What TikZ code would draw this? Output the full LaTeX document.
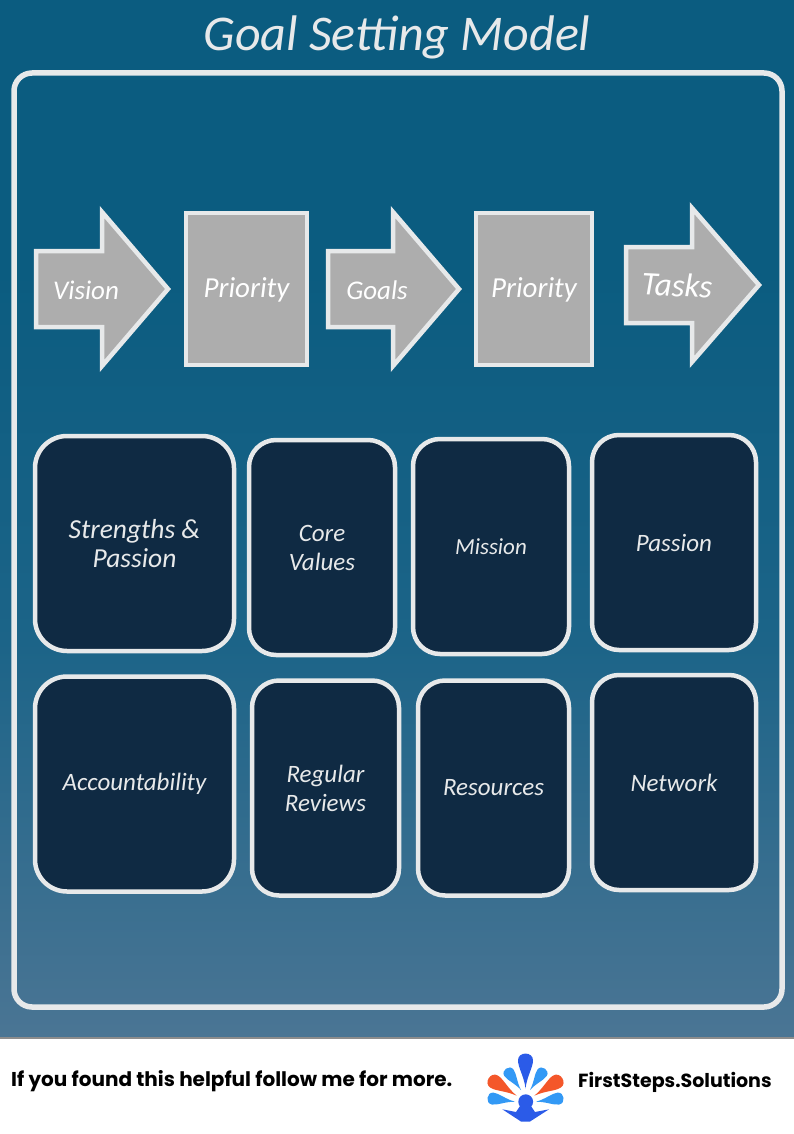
\documentclass[tikz,border=0pt]{standalone}
\usepackage{fontspec}
\usepackage{xcolor}
\usetikzlibrary{positioning,calc,shadows}
\setmainfont{Carlito}
\newfontfamily\footfont{Poppins}[BoldFont={Poppins Bold}]

\definecolor{bgtop}{HTML}{0B5C80}
\definecolor{bgmid}{HTML}{1C6488}
\definecolor{bgbot}{HTML}{4A7594}
\definecolor{framecol}{HTML}{E7E9EA}
\definecolor{flowgray}{HTML}{ADADAD}
\definecolor{cardnavy}{HTML}{0F2A43}
\definecolor{logoblue}{HTML}{2B5BE8}
\definecolor{logosky}{HTML}{3399F5}
\definecolor{logored}{HTML}{F4572A}

\pgfdeclareverticalshading{bgfade}{100bp}{color(0bp)=(bgbot); color(25bp)=(bgbot); color(44bp)=(bgmid); color(62bp)=(bgtop); color(100bp)=(bgtop)}

\tikzset{
    flowbox/.style={draw=framecol, fill=flowgray, line width=4.5pt, miter limit=10},
    flowtext/.style={text=white, font=\itshape\fontsize{27}{27}\selectfont, inner sep=0pt},
    priobox/.style={flowbox, minimum height=152pt, inner sep=0pt, text=white, text height=20pt, text depth=3pt, font=\itshape\fontsize{29}{29}\selectfont},
    cardbox/.style={draw=framecol, fill=cardnavy, line width=4.5pt, rounded corners=27pt, minimum height=215pt,
        inner sep=0pt, align=center, text=framecol, font=\itshape\fontsize{25}{29}\selectfont},
    footlabel/.style={anchor=west, inner sep=0pt, font=\footfont\bfseries\fontsize{20}{20}\selectfont},
    petal/.pic={\fill (0,0) .. controls (-1.5,-12) and (-7.5,-21) .. (-7.5,-28)
        .. controls (-7.5,-37) and (7.5,-37) .. (7.5,-28)
        .. controls (7.5,-21) and (1.5,-12) .. (0,0) -- cycle;}
}

\begin{document}
\begin{tikzpicture}[x=1pt,y=-1pt]
    \useasboundingbox (0,0) rectangle (794,1134);
    % background
    \fill[white] (0,0) rectangle (794,1134);
    \fill[black!45] (0,1035) rectangle (794,1039);
    \shade[shading=bgfade] (0,0) rectangle (794,1036);
    \node[text=framecol, font=\itshape\fontsize{50}{50}\selectfont, inner sep=0pt] (title) at (397,37) {Goal Setting Model};
    \draw[framecol, line width=5.5pt, rounded corners=18pt] (14,73) rectangle (782,1007);

    % top row
    \draw[flowbox] (36,251) -- (102,251) -- (102,212) -- (168,289) -- (102,366) -- (102,327) -- (36,327) -- cycle;
    \node[flowtext] (vision) at (86,290) {Vision};
    \node[priobox, minimum width=121pt] (prioa) at (246.5,289) {Priority};
    \draw[flowbox] (328,251) -- (393,251) -- (393,212) -- (459,289) -- (393,366) -- (393,327) -- (328,327) -- cycle;
    \node[flowtext] (goals) at (377,290) {Goals};
    \node[priobox, minimum width=116pt] (priob) at (534,289) {Priority};
    \draw[flowbox] (626,247) -- (692,247) -- (692,208) -- (759,285) -- (692,362) -- (692,323) -- (626,323) -- cycle;
    \node[flowtext, rotate=-3, font=\itshape\fontsize{33}{33}\selectfont] (tasks) at (677,285) {Tasks};

    % cards
    \node[cardbox, minimum width=199pt, rounded corners=32pt, font=\itshape\fontsize{27.5}{29}\selectfont] (strengths) at (134.5,543.5) {Strengths \&\\Passion};
    \node[cardbox, minimum width=146pt] (core) at (322,547.5) {Core\\Values};
    \node[cardbox, minimum width=156pt, font=\itshape\fontsize{23}{29}\selectfont] (mission) at (491,546.5) {Mission};
    \node[cardbox, minimum width=164pt] (passion) at (674,542.5) {Passion};
    \node[cardbox, minimum width=199pt, rounded corners=32pt] (account) at (134.5,784) {Accountability};
    \node[cardbox, minimum width=147pt] (reviews) at (325.5,788) {Regular\\Reviews};
    \node[cardbox, minimum width=151pt] (resources) at (493.5,788) {Resources};
    \node[cardbox, minimum width=164pt] (network) at (674,782.5) {Network};

    % footer
    \node[footlabel] (helpful) at (11,1081) {If you found this helpful follow me for more.};
    \node[footlabel, font=\footfont\bfseries\fontsize{19}{19}\selectfont] (brand) at (578,1082) {FirstSteps.Solutions};

    % logo
    \pic[logoblue] at (525.5,1088.3) {petal};
    \pic[logosky, rotate=35, scale=.75] at (521,1090) {petal};
    \pic[logosky, rotate=-35, scale=.75] at (530,1090) {petal};
    \pic[logored, rotate=58, scale=.95] at (516.7,1095.7) {petal};
    \pic[logored, rotate=-58, scale=.95] at (534.3,1095.7) {petal};
    \pic[logosky, rotate=82, scale=.8] at (515,1101.7) {petal};
    \pic[logosky, rotate=-82, scale=.8] at (536,1101.7) {petal};
    \fill[logoblue] (525.7,1101.7) circle (7.4);
    \fill[logoblue] (502.3,1109.3) -- (516,1112) -- (520,1106) -- (531,1106) -- (535,1112) -- (549,1109.3) -- (530,1121.5) -- (521,1121.5) -- cycle;
\end{tikzpicture}
\end{document}
